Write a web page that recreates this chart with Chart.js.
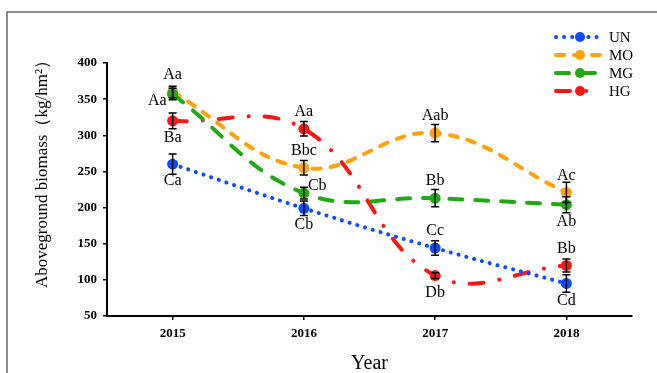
<!DOCTYPE html>
<html>
<head>
<meta charset="utf-8">
<script src="https://cdn.jsdelivr.net/npm/chart.js@4"></script>
<style>
    html, body { margin: 0; padding: 0; background: #fff; }
    #wrap { width: 657px; height: 373px; }
</style>
</head>
<body>
<div id="wrap"><canvas id="grafico" width="657" height="373"></canvas></div>
<script>
const years = ['2015', '2016', '2017', '2018'];

// aboveground biomass per treatment (kg/hm2)
const unValues = [260, 199, 144, 95];
const moValues = [360, 255, 303, 221];
const mgValues = [357, 220, 213, 204];
const hgValues = [320, 309, 106, 120];

// standard errors
const unErr = [14, 10, 10, 12];
const moErr = [8, 10, 12, 14];
const mgErr = [8, 8, 12, 11];
const hgErr = [11, 10, 4, 9];

// significance letters
const unLetters = ['Ca', 'Cb', 'Cc', 'Cd'];
const moLetters = ['Aa', 'Bbc', 'Aab', 'Ac'];
const mgLetters = ['Aa', 'Cb', 'Bb', 'Ab'];
const hgLetters = ['Ba', 'Aa', 'Db', 'Bb'];

const yTicks = [50, 100, 150, 200, 250, 300, 350, 400];

// where each letter sits relative to its point
const unPlace = ['below', 'below', 'above', 'below'];
const moPlace = ['above', 'above', 'above', 'above'];
const mgPlace = ['left', 'right', 'above', 'below'];
const hgPlace = ['below', 'above', 'below', 'above'];

const serif = "'Liberation Serif', 'Times New Roman', serif";

function serie(label, data, color, dash, err, letters, place, order) {
    return {
        label, data,
        borderColor: color,
        backgroundColor: color,
        borderWidth: 4,
        borderDash: dash,
        borderCapStyle: 'round',
        tension: 0.4,
        pointRadius: 5.5,
        pointBorderWidth: 0,
        pointBackgroundColor: color,
        order,
        err, letters, place
    };
}

const datasets = [
    serie('UN', unValues, '#0a4bff', [0.1, 8], unErr, unLetters, unPlace, 1),
    serie('MO', moValues, '#ffa20a', [8, 10], moErr, moLetters, moPlace, 3),
    serie('MG', mgValues, '#1faa12', [13, 13], mgErr, mgLetters, mgPlace, 2),
    serie('HG', hgValues, '#ff1414', [14, 16, 0.1, 16], hgErr, hgLetters, hgPlace, 4)
];

const extras = {
    id: 'extras',
    beforeDraw(chart) {
        const ctx = chart.ctx;
        ctx.save();
        ctx.strokeStyle = '#666';
        ctx.lineWidth = 1.5;
        ctx.beginPath();
        ctx.moveTo(7, 373);
        ctx.lineTo(7, 12);
        ctx.lineTo(657, 12);
        ctx.stroke();
        ctx.restore();
    },
    afterDatasetsDraw(chart) {
        const ctx = chart.ctx;
        const y = chart.scales.y;
        ctx.save();
        chart.data.datasets.forEach((ds, i) => {
            const meta = chart.getDatasetMeta(i);
            meta.data.forEach((pt, j) => {
                const v = ds.data[j];
                const top = y.getPixelForValue(v + ds.err[j]);
                const bot = y.getPixelForValue(v - ds.err[j]);
                ctx.strokeStyle = '#000';
                ctx.lineWidth = 1.5;
                ctx.beginPath();
                ctx.moveTo(pt.x, top); ctx.lineTo(pt.x, bot);
                ctx.moveTo(pt.x - 4, top); ctx.lineTo(pt.x + 4, top);
                ctx.moveTo(pt.x - 4, bot); ctx.lineTo(pt.x + 4, bot);
                ctx.stroke();

                ctx.fillStyle = '#000';
                ctx.font = '16px ' + serif;
                ctx.textBaseline = 'middle';
                const p = ds.place[j];
                if (p === 'above') {
                    ctx.textAlign = 'center';
                    ctx.fillText(ds.letters[j], pt.x, pt.y - 17);
                } else if (p === 'below') {
                    ctx.textAlign = 'center';
                    ctx.fillText(ds.letters[j], pt.x, pt.y + 17);
                } else if (p === 'left') {
                    ctx.textAlign = 'right';
                    ctx.fillText(ds.letters[j], pt.x - 6, pt.y + 7);
                } else {
                    ctx.textAlign = 'left';
                    ctx.fillText(ds.letters[j], pt.x + 4, pt.y - 7);
                }
            });
        });
        ctx.restore();
    },
    afterDraw(chart) {
        const ctx = chart.ctx;
        const area = chart.chartArea;
        ctx.save();

        // legend: line sample with a dot, then the name
        chart.data.datasets.forEach((ds, i) => {
            const ly = 37 + i * 18;
            ctx.strokeStyle = ds.borderColor;
            ctx.lineWidth = 4;
            ctx.lineCap = 'round';
            ctx.setLineDash(ds.borderDash);
            ctx.beginPath();
            ctx.moveTo(556, ly);
            ctx.lineTo(601, ly);
            ctx.stroke();
            ctx.setLineDash([]);
            ctx.fillStyle = ds.borderColor;
            ctx.beginPath();
            ctx.arc(580, ly, 5, 0, Math.PI * 2);
            ctx.fill();
            ctx.fillStyle = '#000';
            ctx.font = '15px ' + serif;
            ctx.textAlign = 'left';
            ctx.textBaseline = 'middle';
            ctx.fillText(ds.label, 609, ly + 1);
        });

        // axis titles
        ctx.fillStyle = '#000';
        ctx.textAlign = 'center';
        ctx.textBaseline = 'middle';
        ctx.font = '20px ' + serif;
        ctx.fillText('Year', (area.left + area.right) / 2, 364);

        ctx.translate(43, 170);
        ctx.rotate(-Math.PI / 2);
        ctx.font = '17px ' + serif;
        ctx.fillText('Aboveground biomass（kg/hm²）', 0, 0);
        ctx.restore();
    }
};

new Chart(document.getElementById('grafico'), {
    type: 'line',
    data: { labels: years, datasets },
    options: {
        responsive: false,
        animation: false,
        layout: { padding: { top: 63, right: 25, left: 0, bottom: 0 } },
        plugins: {
            legend: { display: false },
            tooltip: { enabled: false }
        },
        scales: {
            x: {
                offset: true,
                grid: { drawOnChartArea: false, tickLength: 4, color: '#000', lineWidth: 1.5 },
                border: { color: '#000', width: 2 },
                ticks: { color: '#000', padding: 6, font: { family: serif, size: 13, weight: 'bold' } },
                afterFit: (s) => { s.height = 57; }
            },
            y: {
                min: yTicks[0],
                max: yTicks[yTicks.length - 1],
                afterBuildTicks: (s) => { s.ticks = yTicks.map(v => ({ value: v })); },
                grid: { drawOnChartArea: false, tickLength: 4, color: '#000', lineWidth: 1.5 },
                border: { color: '#000', width: 2 },
                ticks: { color: '#000', padding: 6, font: { family: serif, size: 13, weight: 'bold' } },
                afterFit: (s) => { s.width = 107; }
            }
        }
    },
    plugins: [extras]
});
</script>
</body>
</html>
